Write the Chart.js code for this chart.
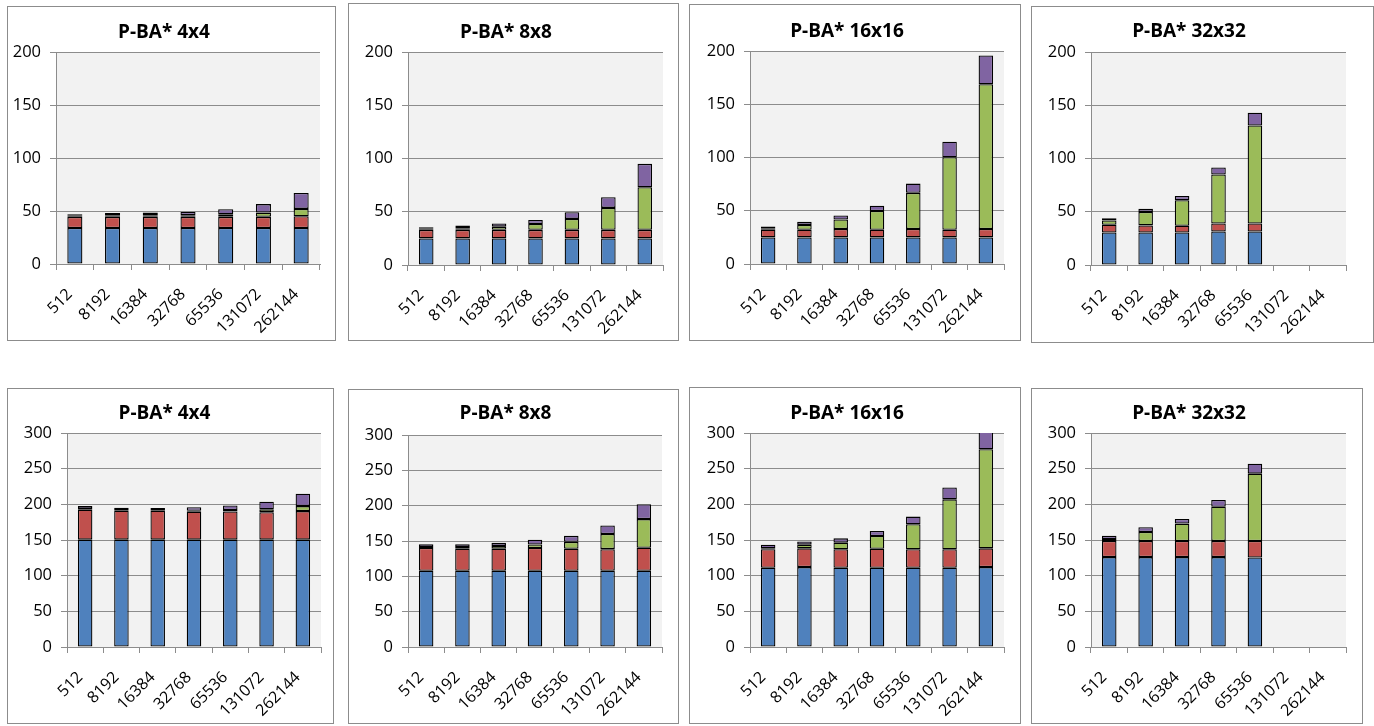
<!DOCTYPE html>
<html>
<head>
<meta charset="utf-8">
<script src="https://cdn.jsdelivr.net/npm/chart.js@4"></script>
<style>
  body { margin: 0; background: #fff; width: 1374px; height: 726px; position: relative; overflow: hidden; }
  .panel { position: absolute; border: 1px solid #8c8c8c; background: #fff; }
  .panel canvas { display: block; }
</style>
</head>
<body>
<div id="wrap"></div>
<script>
// x categories shared by every panel
const sizes = ['512', '8192', '16384', '32768', '65536', '131072', '262144'];

// top row (0-200)
const top4Blue   = [34, 34, 34, 34, 34, 34, 34];
const top4Red    = [10.5, 10.5, 10.5, 10.5, 10.5, 10.5, 11];
const top4Green  = [1, 1, 1.5, 1.5, 2.5, 4, 7];
const top4Purple = [1.5, 2.5, 2.5, 3, 4.7, 8, 15];

const top8Blue   = [25, 25, 25, 25, 25, 25, 25];
const top8Red    = [8, 8, 8, 8, 8, 8, 8];
const top8Green  = [1.5, 1.5, 3, 5.5, 10.3, 20.6, 40];
const top8Purple = [1, 2.5, 3, 3.7, 6.2, 10, 22];

const top16Blue   = [25, 25, 25, 25, 25, 25, 25];
const top16Red    = [7.2, 7.2, 7.8, 7.2, 7.8, 7.2, 7.8];
const top16Green  = [1, 4.5, 9, 17.5, 34, 68, 136];
const top16Purple = [2, 3, 3.7, 5, 8.7, 14.7, 27];

const top32Blue   = [30.5, 30.5, 30.5, 31.5, 31.5, null, null];
const top32Red    = [7.3, 6.7, 6.4, 7.5, 7.5, null, null];
const top32Green  = [4, 12.5, 24, 46, 92, null, null];
const top32Purple = [2, 3, 4, 6.6, 12, null, null];

// bottom row (0-300)
const bot4Blue   = [150.5, 150.5, 150.5, 150.5, 150.5, 150.5, 150.5];
const bot4Red    = [42, 40.5, 40.5, 39, 39.5, 38.5, 40];
const bot4Green  = [1, 1, 1, 1.5, 2, 4, 7];
const bot4Purple = [4, 3.2, 3, 5, 6.4, 10.7, 17.5];

const bot8Blue   = [108, 108, 108, 108, 108, 108, 108];
const bot8Red    = [32, 31, 31, 32, 31, 30.5, 32.5];
const bot8Green  = [1.5, 2.5, 4, 5, 9.8, 21.5, 40.5];
const bot8Purple = [4, 4, 4.4, 6.7, 8.5, 12, 21];

const bot16Blue   = [111, 112, 111, 111, 111, 111, 112];
const bot16Red    = [26, 26.3, 26, 26.8, 26, 26, 26.3];
const bot16Green  = [1.5, 5.2, 9.3, 17.8, 35, 70, 139];
const bot16Purple = [5, 4.5, 6, 7, 10.8, 16.6, 28];

const bot32Blue   = [126, 126, 126, 126, 125.5, null, null];
const bot32Red    = [22.6, 22.6, 22.6, 22.6, 23, null, null];
const bot32Green  = [2.8, 12.7, 24.4, 48, 94.5, null, null];
const bot32Purple = [4.6, 6.5, 6.6, 9.5, 14, null, null];

const seriesNames  = ['Series1', 'Series2', 'Series3', 'Series4'];
const seriesColors = ['#4F81BD', '#C0504D', '#9BBB59', '#8064A2'];

// box = panel border (abs px), plot = chart area (abs px)
const panels = [
  { title: 'P-BA* 4x4',   max: 200, data: [top4Blue, top4Red, top4Green, top4Purple],
    box: [7, 6, 335, 340],    plot: [56, 52, 320, 264],   titleY: 33 },
  { title: 'P-BA* 8x8',   max: 200, data: [top8Blue, top8Red, top8Green, top8Purple],
    box: [348, 3, 678, 340],  plot: [408, 52, 663, 265],  titleY: 33 },
  { title: 'P-BA* 16x16', max: 200, data: [top16Blue, top16Red, top16Green, top16Purple],
    box: [689, 4, 1020, 340], plot: [750, 51, 1004, 264], titleY: 32 },
  { title: 'P-BA* 32x32', max: 200, data: [top32Blue, top32Red, top32Green, top32Purple],
    box: [1031, 6, 1373, 342], plot: [1091, 52, 1346, 265], titleY: 32 },
  { title: 'P-BA* 4x4',   max: 300, data: [bot4Blue, bot4Red, bot4Green, bot4Purple],
    box: [7, 388, 333, 723],  plot: [67, 433, 321, 647],  titleY: 414 },
  { title: 'P-BA* 8x8',   max: 300, data: [bot8Blue, bot8Red, bot8Green, bot8Purple],
    box: [348, 389, 678, 723], plot: [408, 435, 662, 647], titleY: 414 },
  { title: 'P-BA* 16x16', max: 300, data: [bot16Blue, bot16Red, bot16Green, bot16Purple],
    box: [689, 387, 1020, 723], plot: [750, 433, 1004, 647], titleY: 414 },
  { title: 'P-BA* 32x32', max: 300, data: [bot32Blue, bot32Red, bot32Green, bot32Purple],
    box: [1031, 388, 1362, 723], plot: [1091, 433, 1346, 647], titleY: 414 }
];

const plotBg = {
  id: 'plotBg',
  beforeDraw(chart) {
    const a = chart.chartArea;
    const ctx = chart.ctx;
    ctx.save();
    ctx.fillStyle = '#F2F2F2';
    ctx.fillRect(a.left, a.top, a.right - a.left, a.bottom - a.top);
    ctx.restore();
  }
};

const wrap = document.getElementById('wrap');
const TITLE_SIZE = 19, TITLE_LH = 1.2;

panels.forEach(p => {
  const [bl, bt, br, bb] = p.box;
  const [pl, pt, pr, pb] = p.plot;
  const ox = bl + 1, oy = bt + 1;
  const w = br - bl - 1, h = bb - bt - 1;

  const div = document.createElement('div');
  div.className = 'panel';
  div.style.left = bl + 'px';
  div.style.top = bt + 'px';
  div.style.width = w + 'px';
  div.style.height = h + 'px';
  const canvas = document.createElement('canvas');
  canvas.width = w;
  canvas.height = h;
  div.appendChild(canvas);
  wrap.appendChild(div);

  const yWidth = pl - ox;
  const xHeight = h - (pb - oy);
  const rightPad = w - (pr - ox);
  const titleLine = TITLE_SIZE * TITLE_LH;
  const titleTop = (p.titleY - oy) - titleLine / 2;
  const titleBottom = (pt - oy) - titleTop - titleLine;

  new Chart(canvas, {
    type: 'bar',
    data: {
      labels: sizes,
      datasets: p.data.map((vals, i) => ({
        label: seriesNames[i],
        data: vals,
        backgroundColor: seriesColors[i],
        borderColor: '#000',
        borderWidth: 1.3,
        borderSkipped: false,
        barPercentage: 0.4,
        categoryPercentage: 1
      }))
    },
    options: {
      responsive: false,
      animation: false,
      layout: { padding: { top: 0, left: 0, right: rightPad, bottom: 0 } },
      plugins: {
        legend: { display: false },
        tooltip: { enabled: false },
        title: {
          display: true,
          text: p.title,
          color: '#000',
          font: { family: 'Open Sans', size: TITLE_SIZE, weight: 'bold', lineHeight: TITLE_LH },
          padding: { top: titleTop, bottom: titleBottom }
        }
      },
      scales: {
        x: {
          stacked: true,
          grid: { drawOnChartArea: false, drawTicks: true, tickLength: 6, color: '#8c8c8c', offset: true },
          border: { display: true, color: '#8c8c8c' },
          ticks: {
            color: '#000',
            font: { family: 'Open Sans', size: 16 },
            minRotation: 45, maxRotation: 45,
            padding: 15,
            labelOffset: -5,
            autoSkip: false
          },
          afterFit(scale) { scale.height = xHeight; }
        },
        y: {
          stacked: true,
          min: 0,
          max: p.max,
          grid: { color: '#8c8c8c', drawTicks: true, tickLength: 6 },
          border: { display: true, color: '#8c8c8c' },
          ticks: {
            stepSize: 50,
            color: '#000',
            font: { family: 'Open Sans', size: 16.5 },
            padding: 9
          },
          afterFit(scale) { scale.width = yWidth; }
        }
      }
    },
    plugins: [plotBg]
  });
});
</script>
</body>
</html>
